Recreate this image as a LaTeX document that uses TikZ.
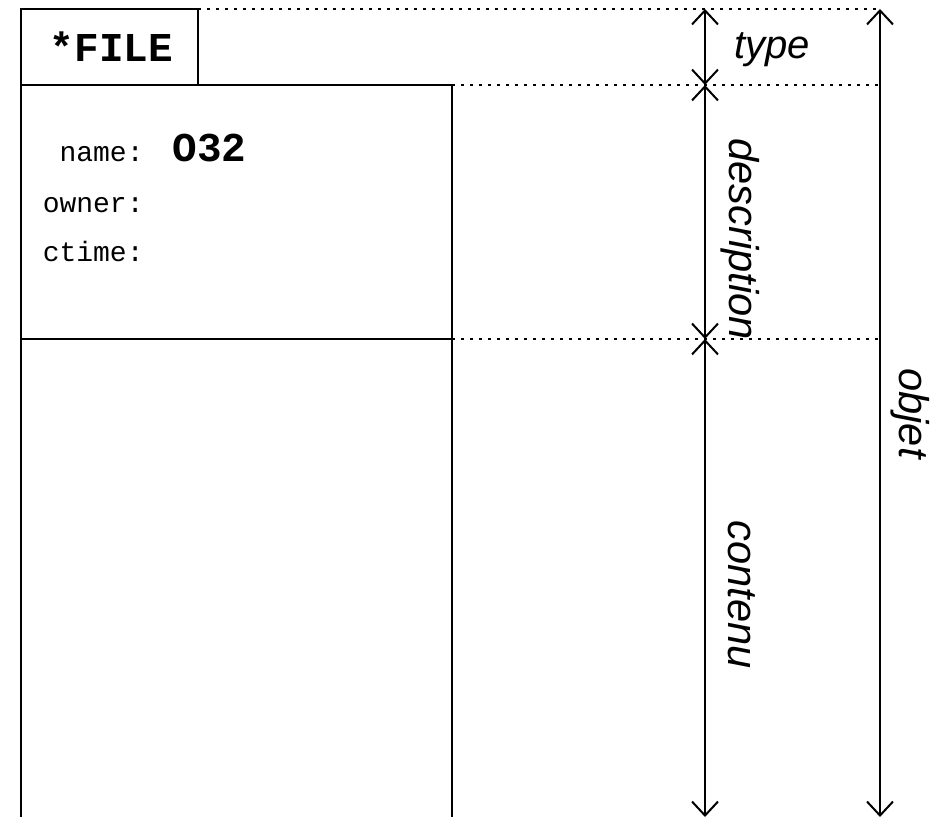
\documentclass[tikz,border=0pt]{standalone}
\usepackage{fontspec}
\setmainfont{Liberation Sans}
\newfontfamily\monofont{Liberation Mono}
\usetikzlibrary{arrows.meta,positioning}

\begin{document}
\begin{tikzpicture}[
x=0.5pt, y=-0.5pt,
    Box/.style = {rectangle, draw, line width=1pt,% frames of the object
                  inner sep=0pt, outer sep=0pt, anchor=north west},
    Dim/.style = {line width=1pt,
                  {Straight Barb[length=7pt,width=13pt]}-{Straight Barb[length=7pt,width=13pt]}},
    Gd/.style  = {line width=1pt, dash pattern=on 1.4pt off 3.1pt},% guide lines
    Lbl/.style = {font=\fontsize{20.8}{24}\selectfont\itshape, inner sep=0pt},
    F/.style   = {font=\monofont\fontsize{14}{17}\selectfont, inner sep=0pt, anchor=base east},
                        ]
\useasboundingbox (0,0) rectangle (949,817);

% header, description and content
\node[Box, minimum width=88.5pt, minimum height=38pt] (tab) at (21,9) {};
\node[font=\monofont\bfseries\fontsize{20.5}{24}\selectfont] at ([xshift=1pt]tab.center) {*FILE};
\node[Box, minimum width=215.5pt, minimum height=127pt] (desc) at (tab.south west) {};
\node[Box, minimum width=215.5pt, minimum height=244pt] (cont) at (desc.south west) {};

\node[F] (nm) at (144,162) {name:};
\node[font=\monofont\bfseries\fontsize{20.5}{24}\selectfont, inner sep=0pt, anchor=base west]
     (val) at (172,162) {O32};
\node[F] (ow) at (144,213) {owner:};
\node[F] (ct) at (144,262) {ctime:};

% dimension lines
\coordinate (a0) at (705,9);
\coordinate (a1) at (705,85);
\coordinate (a2) at (705,339);
\coordinate (a3) at (705,817);
\coordinate (b0) at (880,9);
\coordinate (b1) at (880,817);

\draw[Gd] (tab.north east) -- (tab.north east -| b0);
\draw[Gd] (desc.north east) -- (desc.north east -| b0);
\draw[Gd] (desc.south east) -- (desc.south east -| b0);

\draw[Dim] (a0) -- (a1);
\draw[Dim] (a1) -- (a2);
\draw[Dim] (a2) -- (a3);
\draw[Dim] (b0) -- (b1);

\node[Lbl, font=\fontsize{20}{24}\selectfont\itshape, anchor=base west] (ty) at (734,59) {type};
\node[Lbl, rotate=-90, anchor=base west] (de) at (729,138) {description};
\node[Lbl, rotate=-90, anchor=base west] (co) at (728,520) {contenu};
\node[Lbl, rotate=-90, anchor=base west] (ob) at (899,368) {objet};

\end{tikzpicture}
\end{document}
